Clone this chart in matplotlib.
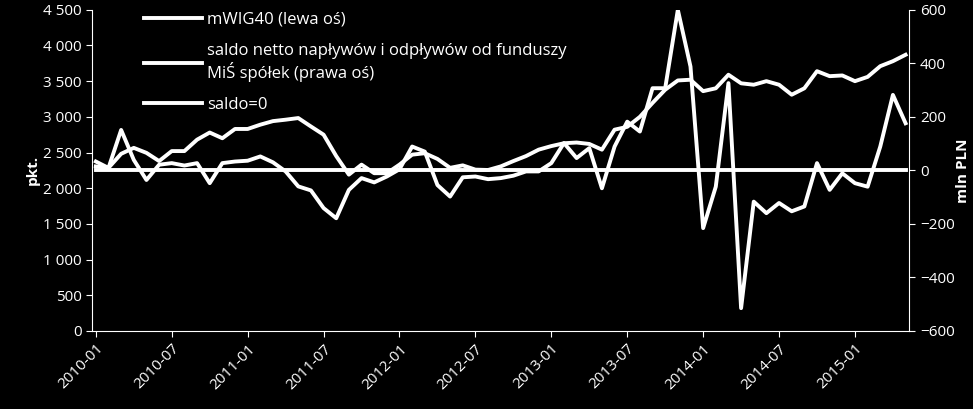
import matplotlib
matplotlib.use("Agg")
import matplotlib.pyplot as plt

months = [f"{2010 + i // 12}-{i % 12 + 1:02d}" for i in range(65)]
mwig40 = [2305, 2285, 2482, 2565, 2495, 2380, 2520, 2520, 2680, 2780, 2700, 2830, 2830, 2890,
          2940, 2960, 2983, 2865, 2750, 2450, 2190, 2330, 2210, 2210, 2330, 2470, 2490, 2410,
          2285, 2320, 2260, 2255, 2305, 2380, 2450, 2540, 2590, 2630, 2640, 2620, 2540, 2820,
          2860, 3000, 3195, 3380, 3510, 3520, 3360, 3400, 3590, 3470, 3450, 3500, 3450, 3310,
          3400, 3640, 3570, 3580, 3500, 3560, 3710, 3780, 3870]
flows = [33, 9, 151, 39, -36, 21, 27, 18, 27, -48, 27, 33, 36, 52, 30, -4, -60, -75, -141,
         -179, -73, -29, -45, -23, 4, 89, 70, -55, -98, -26, -23, -33, -29, -20, -4, -4, 27,
         102, 46, 83, -67, 89, 182, 145, 307, 307, 600, 388, -216, -61, 326, -515, -117, -160,
         -122, -153, -135, 27, -73, -11, -48, -61, 89, 282, 176]
zero_line = [0] * len(months)
tick_idx = list(range(0, 65, 6))

plt.rcParams['font.family'] = ['Open Sans', 'DejaVu Sans']
fig = plt.figure(figsize=(9.73, 4.09), dpi=100, facecolor='black')
ax = fig.add_axes([0.0946, 0.191, 0.84, 0.785], facecolor='black')
ax2 = ax.twinx()
x = list(range(len(months)))
l1, = ax.plot(x, mwig40, color='white', lw=2.8, label='mWIG40 (lewa oś)')
l2, = ax2.plot(x, flows, color='white', lw=2.8,
               label='saldo netto napływów i odpływów od funduszy\nMiŚ spółek (prawa oś)')
l3, = ax2.plot(x, zero_line, color='white', lw=2.8, label='saldo=0')
ax.set_ylim(0, 4500)
ax.set_yticks(range(0, 4501, 500))
ax.set_yticklabels([f"{v:,}".replace(",", " ") for v in range(0, 4501, 500)])
ax2.set_ylim(-600, 600)
ax2.set_yticks(range(-600, 601, 200))
ax.set_xlim(-0.3, 64.3)
ax.set_xticks(tick_idx)
ax.set_xticklabels([months[i] for i in tick_idx], rotation=45, ha='right', rotation_mode='anchor')
for a in (ax, ax2):
    for s in a.spines.values():
        s.set_visible(False)
    a.tick_params(colors='white', labelsize=11, length=4)
ax.spines['left'].set_visible(True); ax.spines['left'].set_color('white')
ax.spines['bottom'].set_visible(True); ax.spines['bottom'].set_color('white')
ax2.spines['right'].set_visible(True); ax2.spines['right'].set_color('white')
ax.set_ylabel('pkt.', color='white', fontsize=11, fontweight='bold', labelpad=2)
ax2.set_ylabel('mln PLN', color='white', fontsize=11, fontweight='bold', labelpad=1)
leg = ax.legend(handles=[l1, l2, l3], loc='upper left', bbox_to_anchor=(0.045, 1.04),
                frameon=False, fontsize=12, labelcolor='white', handlelength=3.5,
                handletextpad=0.3, labelspacing=0.9)
fig.savefig('out.png', facecolor='black')
